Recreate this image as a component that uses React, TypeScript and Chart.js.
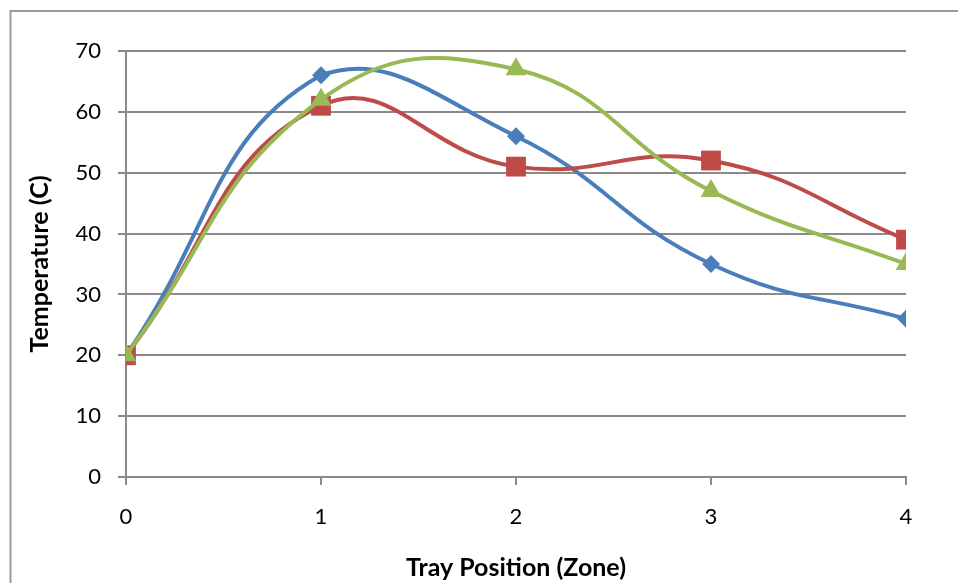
import React, { useEffect, useRef } from "react";
import { Chart, registerables } from "chart.js";

Chart.register(...registerables);

const trayPositions = [0, 1, 2, 3, 4];
const seriesBlue = [20, 66, 56, 35, 26];
const seriesRed = [20, 61, 51, 52, 39];
const seriesGreen = [20, 62, 67, 47, 35];
const yTicks = [0, 10, 20, 30, 40, 50, 60, 70];

const FONT = "Lato, 'Open Sans', sans-serif";
const GRID = "#8a8a8a";

const framePlugin = {
  id: "frame",
  beforeDraw(chart: any) {
    const { ctx, width, height } = chart;
    ctx.save();
    ctx.fillStyle = "#ffffff";
    ctx.fillRect(0, 0, width, height);
    ctx.strokeStyle = "#9a9a9a";
    ctx.lineWidth = 2;
    ctx.beginPath();
    ctx.moveTo(10.5, height);
    ctx.lineTo(10.5, 11);
    ctx.lineTo(width, 11);
    ctx.stroke();
    ctx.restore();
  },
};

export default function App() {
  const ref = useRef<HTMLCanvasElement>(null);
  useEffect(() => {
    if (!ref.current) return;
    const toPts = (arr: number[]) => arr.map((v, i) => ({ x: trayPositions[i], y: v }));
    const chart = new Chart(ref.current, {
      type: "line",
      data: {
        datasets: [
          {
            label: "Series1",
            data: toPts(seriesBlue),
            borderColor: "#4A7EBB",
            backgroundColor: "#4A7EBB",
            borderWidth: 4,
            pointStyle: "rectRot",
            pointRadius: 9,
            pointBorderWidth: 0,
            tension: 0.45,
            order: 2,
          },
          {
            label: "Series2",
            data: toPts(seriesRed),
            borderColor: "#BE4B48",
            backgroundColor: "#BE4B48",
            borderWidth: 4,
            pointStyle: "rect",
            pointRadius: 14,
            pointBorderWidth: 0,
            tension: 0.45,
            order: 1,
          },
          {
            label: "Series3",
            data: toPts(seriesGreen),
            borderColor: "#98B954",
            backgroundColor: "#98B954",
            borderWidth: 4,
            pointStyle: "triangle",
            pointRadius: 12,
            pointBorderWidth: 0,
            tension: 0.45,
            order: 0,
          },
        ],
      },
      options: {
        animation: false,
        responsive: false,
        maintainAspectRatio: false,
        layout: { padding: { top: 51, right: 52, left: 0, bottom: 0 } },
        plugins: {
          legend: { display: false },
          tooltip: { enabled: false },
        },
        scales: {
          x: {
            type: "linear",
            min: 0,
            max: 4,
            afterFit: (s: any) => {
              s.height = 106;
            },
            afterBuildTicks: (s: any) => {
              s.ticks = trayPositions.map((v) => ({ value: v }));
            },
            ticks: {
              color: "#000",
              font: { family: FONT, size: 22 },
              padding: 19,
              maxRotation: 0,
            },
            grid: {
              drawOnChartArea: false,
              drawTicks: true,
              tickLength: 8,
              color: GRID,
              lineWidth: 2,
            },
            border: { display: true, color: GRID, width: 2 },
            title: {
              display: true,
              text: "Tray Position (Zone)",
              color: "#000",
              font: { family: FONT, size: 25, weight: "bold" },
              padding: { top: 0, bottom: 0 },
            },
          },
          y: {
            type: "linear",
            min: 0,
            max: 70,
            afterFit: (s: any) => {
              s.width = 126;
            },
            afterBuildTicks: (s: any) => {
              s.ticks = yTicks.map((v) => ({ value: v }));
            },
            ticks: {
              color: "#000",
              font: { family: FONT, size: 22 },
              padding: 17,
            },
            grid: {
              drawTicks: true,
              tickLength: 8,
              color: GRID,
              lineWidth: 2,
            },
            border: { display: true, color: GRID, width: 2 },
            title: {
              display: true,
              text: "Temperature (C)",
              color: "#000",
              font: { family: FONT, size: 25, weight: "bold" },
              padding: { top: 25, bottom: 0 },
            },
          },
        },
      },
      plugins: [framePlugin],
    });
    return () => chart.destroy();
  }, []);
  return (
    <div style={{ position: "fixed", left: 0, top: 0, width: 958, height: 583 }}>
      <canvas ref={ref} width={958} height={583} style={{ display: "block" }} />
    </div>
  );
}
